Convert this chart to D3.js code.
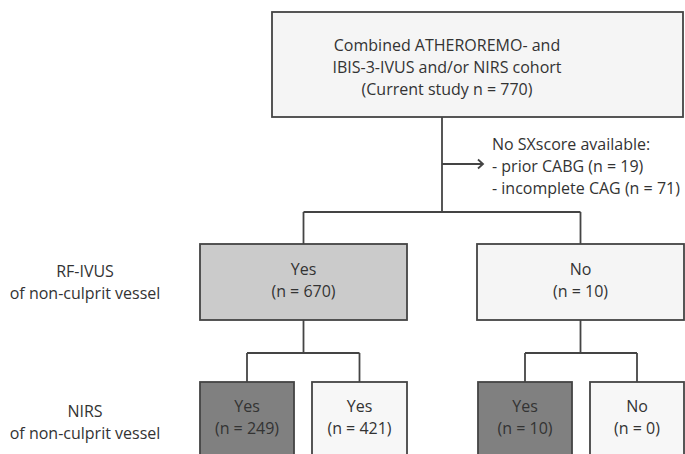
<!DOCTYPE html>
<html>
<head>
<meta charset="utf-8">
<script src="https://cdn.jsdelivr.net/npm/d3@7/dist/d3.min.js"></script>
<style>
  html, body { margin: 0; padding: 0; background: #ffffff; }
  svg { display: block; }
  text { font-family: "Open Sans", "Noto Sans", sans-serif; fill: #333333; }
</style>
</head>
<body>
<svg id="chart" width="685" height="454"></svg>
<script>
// ---- Data ----
const cohortLines = ["Combined ATHEROREMO- and", "IBIS-3-IVUS and/or NIRS cohort", "(Current study n = 770)"];
const excludedLines = ["No SXscore available:", "- prior CABG (n = 19)", "- incomplete CAG (n = 71)"];
const rowLabels = [["RF-IVUS", "of non-culprit vessel"], ["NIRS", "of non-culprit vessel"]];
const level1Answers = ["Yes", "No"];
const level1Counts = [670, 10];
const level2Answers = ["Yes", "Yes", "Yes", "No"];
const level2Counts = [249, 421, 10, 0];
const level2Parent = [0, 0, 1, 1];

// ---- Layout (pixels) ----
const svg = d3.select("#chart");
const stroke = "#444444";
const sw = 1.8;
const fs = 16;
const lh = 22;

const topBox = {x0: 272, x1: 683, y0: 12, y1: 117, textX: 447, firstBase: 51};
const stemX = 442;
const branch1Y = 212;
const l1 = {y0: 244, y1: 320, boxes: [[200, 407], [477, 684]]};
const branch2Y = 353;
const l2 = {y0: 382, y1: 470, boxes: [[200, 294], [312, 407], [478, 572], [590, 684]]};
const l1Fill = ["#cbcbcb", "#f5f5f5"];
const l2Fill = ["#808080", "#f7f7f7", "#808080", "#f7f7f7"];

const line = d3.line();
function seg(points) {
  svg.append("path").attr("d", line(points)).attr("fill", "none")
    .attr("stroke", stroke).attr("stroke-width", sw);
}
function box(x0, x1, y0, y1, fill) {
  svg.append("rect").attr("x", x0).attr("y", y0).attr("width", x1 - x0).attr("height", y1 - y0)
    .attr("fill", fill).attr("stroke", stroke).attr("stroke-width", sw);
}
function textLines(lines, x, firstBase, anchor) {
  const t = svg.append("text").attr("font-size", fs).attr("text-anchor", anchor || "middle");
  lines.forEach((s, i) => {
    t.append("tspan").attr("x", x).attr("y", firstBase + i * lh).text(s);
  });
  return t;
}

// Top cohort box
box(topBox.x0, topBox.x1, topBox.y0, topBox.y1, "#f5f5f5");
textLines(cohortLines, topBox.textX, topBox.firstBase);

// Stem and exclusion arrow
seg([[stemX, topBox.y1], [stemX, branch1Y]]);
const arrowY = 164, arrowX = 483;
seg([[stemX, arrowY], [arrowX, arrowY]]);
svg.append("path").attr("d", line([[arrowX - 5, arrowY - 4.5], [arrowX, arrowY], [arrowX - 5, arrowY + 4.5]]))
  .attr("fill", "none").attr("stroke", stroke).attr("stroke-width", sw);
textLines(excludedLines, 492, 150, "start");

// Level 1
const l1Centers = l1.boxes.map(b => (b[0] + b[1]) / 2);
seg([[l1Centers[0], branch1Y], [l1Centers[1], branch1Y]]);
l1.boxes.forEach((b, i) => {
  seg([[l1Centers[i], branch1Y], [l1Centers[i], l1.y0]]);
  box(b[0], b[1], l1.y0, l1.y1, l1Fill[i]);
  textLines([level1Answers[i], "(n = " + level1Counts[i] + ")"], l1Centers[i], 275);
  seg([[l1Centers[i], l1.y1], [l1Centers[i], branch2Y]]);
});

// Level 2
const l2Centers = l2.boxes.map(b => (b[0] + b[1]) / 2);
[0, 1].forEach(p => {
  const kids = l2Centers.filter((c, i) => level2Parent[i] === p);
  seg([[d3.min(kids), branch2Y], [d3.max(kids), branch2Y]]);
});
l2.boxes.forEach((b, i) => {
  seg([[l2Centers[i], branch2Y], [l2Centers[i], l2.y0]]);
  box(b[0], b[1], l2.y0, l2.y1, l2Fill[i]);
  textLines([level2Answers[i], "(n = " + level2Counts[i] + ")"], l2Centers[i], 412);
});

// Row labels
textLines(rowLabels[0], 85, 277);
textLines(rowLabels[1], 85, 417);
</script>
</body>
</html>
